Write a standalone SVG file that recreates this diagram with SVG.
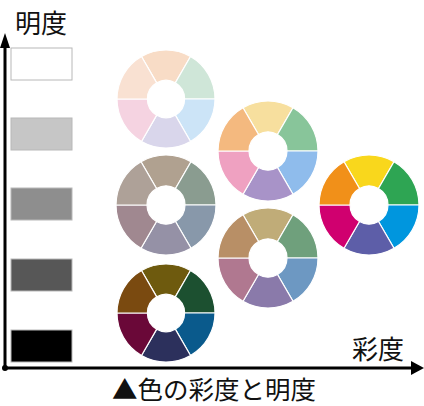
<svg xmlns="http://www.w3.org/2000/svg" xmlns:xlink="http://www.w3.org/1999/xlink" width="424" height="406" viewBox="0 0 424 406">
<style>
.seg{stroke:#ffffff;stroke-width:1.2}
.lbl{font-family:"Noto Sans CJK JP","Noto Sans CJK SC",sans-serif;fill:#111111}
.axis{stroke:#000000;stroke-width:3;fill:none}
.sw{stroke:#b8b8b8;stroke-width:1}
</style>
<defs>
<path id="sT" d="M -25,-43.3 A 50 50 0 0 1 25,-43.3 L 9.5,-16.45 A 19 19 0 0 0 -9.5,-16.45 Z"/>
<path id="sUR" d="M 25,-43.3 A 50 50 0 0 1 50,0 L 19,0 A 19 19 0 0 0 9.5,-16.45 Z"/>
<path id="sLR" d="M 50,0 A 50 50 0 0 1 25,43.3 L 9.5,16.45 A 19 19 0 0 0 19,0 Z"/>
<path id="sB" d="M 25,43.3 A 50 50 0 0 1 -25,43.3 L -9.5,16.45 A 19 19 0 0 0 9.5,16.45 Z"/>
<path id="sLL" d="M -25,43.3 A 50 50 0 0 1 -50,0 L -19,0 A 19 19 0 0 0 -9.5,16.45 Z"/>
<path id="sUL" d="M -50,0 A 50 50 0 0 1 -25,-43.3 L -9.5,-16.45 A 19 19 0 0 0 -19,0 Z"/>
</defs>

<g id="swatches">
<rect class="sw" x="11" y="48" width="61" height="32" fill="#ffffff"/>
<rect class="sw" x="11" y="118" width="61" height="32" fill="#c6c6c6"/>
<rect class="sw" x="11" y="188" width="61" height="32" fill="#8e8e8e"/>
<rect class="sw" x="11" y="259" width="61" height="32" fill="#575757"/>
<rect class="sw" x="11" y="330" width="61" height="32" fill="#000000"/>
</g>

<g id="wheel-pastel" transform="translate(166,99) scale(0.98)">
<use href="#sT" class="seg" fill="#f8dcc6"/>
<use href="#sUR" class="seg" fill="#cfe6d8"/>
<use href="#sLR" class="seg" fill="#cce4f7"/>
<use href="#sB" class="seg" fill="#d9d6eb"/>
<use href="#sLL" class="seg" fill="#f5d3e1"/>
<use href="#sUL" class="seg" fill="#f9e1d2"/>
</g>

<g id="wheel-light" transform="translate(268,151)">
<use href="#sT" class="seg" fill="#f7df9e"/>
<use href="#sUR" class="seg" fill="#88c59a"/>
<use href="#sLR" class="seg" fill="#8fbcec"/>
<use href="#sB" class="seg" fill="#a893c8"/>
<use href="#sLL" class="seg" fill="#efa1c1"/>
<use href="#sUL" class="seg" fill="#f4b97f"/>
</g>

<g id="wheel-vivid" transform="translate(369,205)">
<use href="#sT" class="seg" fill="#f9d71c"/>
<use href="#sUR" class="seg" fill="#2ea553"/>
<use href="#sLR" class="seg" fill="#0096de"/>
<use href="#sB" class="seg" fill="#5d5ea8"/>
<use href="#sLL" class="seg" fill="#d0006f"/>
<use href="#sUL" class="seg" fill="#f19019"/>
</g>

<g id="wheel-grey" transform="translate(166,205)">
<use href="#sT" class="seg" fill="#b0a190"/>
<use href="#sUR" class="seg" fill="#8a9c90"/>
<use href="#sLR" class="seg" fill="#8898aa"/>
<use href="#sB" class="seg" fill="#9591a6"/>
<use href="#sLL" class="seg" fill="#a08890"/>
<use href="#sUL" class="seg" fill="#aea198"/>
</g>

<g id="wheel-dull" transform="translate(268,258)">
<use href="#sT" class="seg" fill="#c0ac78"/>
<use href="#sUR" class="seg" fill="#6fa07c"/>
<use href="#sLR" class="seg" fill="#6d98c2"/>
<use href="#sB" class="seg" fill="#8a7aaa"/>
<use href="#sLL" class="seg" fill="#b07890"/>
<use href="#sUL" class="seg" fill="#b88f66"/>
</g>

<g id="wheel-dark" transform="translate(166,313) scale(0.98)">
<use href="#sT" class="seg" fill="#6e5a0e"/>
<use href="#sUR" class="seg" fill="#1c5030"/>
<use href="#sLR" class="seg" fill="#0a5a8c"/>
<use href="#sB" class="seg" fill="#2c305c"/>
<use href="#sLL" class="seg" fill="#6a0838"/>
<use href="#sUL" class="seg" fill="#7a4a10"/>
</g>

<g id="connectors">
<line class="axis" x1="5" y1="368" x2="5" y2="46"/>
<polygon points="5,33 0,48 10,48" fill="#000000"/>
<line class="axis" x1="5" y1="368" x2="412" y2="368"/>
<polygon points="424,368 411,361 411,375" fill="#000000"/>
<circle cx="5" cy="368" r="3" fill="#000000"/>
</g>

<text class="lbl" x="15" y="33" font-size="26">明度</text>
<text class="lbl" x="352" y="359" font-size="26">彩度</text>
<text class="lbl" x="112" y="399" font-size="25.5">▲色の彩度と明度</text>
</svg>
